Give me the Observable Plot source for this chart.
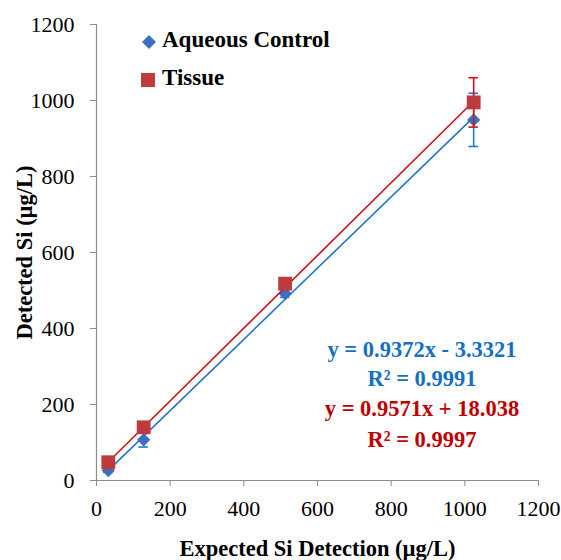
<!DOCTYPE html>
<html>
<head>
<meta charset="utf-8">
<script src="https://cdn.jsdelivr.net/npm/d3@7"></script>
<script src="https://cdn.jsdelivr.net/npm/@observablehq/plot@0.6"></script>
<style>
  html, body { margin: 0; padding: 0; background: #fff; }
  #wrap { position: relative; width: 561px; height: 560px; font-family: "Liberation Serif", serif; overflow: hidden; }
  #wrap svg [aria-label="x-axis tick"], #wrap svg [aria-label="y-axis tick"] { stroke: #8c8c8c; }
  #wrap svg [aria-label="x-axis label"], #wrap svg [aria-label="y-axis label"] { font-weight: bold; font-size: 22.5px; }
  .lg { position: absolute; left: 162px; font-size: 23px; line-height: 23px; font-weight: bold; color: #000; white-space: nowrap; }
  .mk { position: absolute; }
  .eq { position: absolute; font-size: 22.5px; line-height: 22.5px; font-weight: bold; text-align: center; width: 260px; left: 292px; white-space: nowrap; }
</style>
</head>
<body>
<div id="wrap"></div>
<script>
// Data
const expected = [32, 128, 512, 1024];
const aqueous = [26, 107, 492, 949];
const aqueousErr = [4, 19, 10, 70];
const tissue = [48, 140, 518, 995];
const tissueErr = [4, 5, 6, 65];
// trend line end points (x from 32 to 1024)
const trendX = [32, 1024];
const aqueousTrend = [26.7, 956.4];
const tissueTrend = [48.7, 998.1];
const xTicks = [0, 200, 400, 600, 800, 1000, 1200];
const yTicks = [0, 200, 400, 600, 800, 1000, 1200];
const seriesNames = ["Aqueous Control", "Tissue"];
const eqAqueous = ["y = 0.9372x - 3.3321", "R² = 0.9991"];
const eqTissue = ["y = 0.9571x + 18.038", "R² = 0.9997"];

const blue = "#3d6fc0", blueLine = "#1f78d1", blueText = "#1570c4";
const red = "#bf3a3a", redLine = "#d0101c", redText = "#c00000";

const aq = expected.map((x, i) => ({x, y: aqueous[i], e: aqueousErr[i]}));
const ti = expected.map((x, i) => ({x, y: tissue[i], e: tissueErr[i]}));
const aqT = trendX.map((x, i) => ({x, y: aqueousTrend[i]}));
const tiT = trendX.map((x, i) => ({x, y: tissueTrend[i]}));
const cap = 13;

const chart = Plot.plot({
  width: 561,
  height: 560,
  marginLeft: 96,
  marginRight: 23,
  marginTop: 24,
  marginBottom: 80,
  style: {fontFamily: "Liberation Serif, serif", fontSize: "22px", color: "#000", background: "#fff", overflow: "visible"},
  x: {domain: [0, 1200]},
  y: {domain: [0, 1200]},
  marks: [
    Plot.axisX({ticks: xTicks, tickFormat: d3.format("d"), tickSize: 6, tickPadding: 14, label: "Expected Si Detection (µg/L)", labelAnchor: "center", labelOffset: 75, labelArrow: "none"}),
    Plot.axisY({ticks: yTicks, tickFormat: d3.format("d"), tickSize: 6, tickPadding: 16, label: "Detected Si (µg/L)", labelAnchor: "center", labelOffset: 80, labelArrow: "none"}),
    Plot.ruleX([0], {stroke: "#8c8c8c", strokeWidth: 1.2}),
    Plot.ruleY([0], {stroke: "#8c8c8c", strokeWidth: 1.2}),
    // aqueous
    Plot.line(aqT, {x: "x", y: "y", stroke: blueLine, strokeWidth: 1.6}),
    Plot.ruleX(aq, {x: "x", y1: d => d.y - d.e, y2: d => d.y + d.e, stroke: blueLine, strokeWidth: 1.6}),
    Plot.ruleY(aq, {y: d => d.y - d.e, x1: d => d.x - cap, x2: d => d.x + cap, stroke: blueLine, strokeWidth: 1.6}),
    Plot.ruleY(aq, {y: d => d.y + d.e, x1: d => d.x - cap, x2: d => d.x + cap, stroke: blueLine, strokeWidth: 1.6}),
    Plot.dot(aq, {x: "x", y: "y", symbol: "diamond2", r: 6, fill: blue, stroke: "none"}),
    // tissue
    Plot.line(tiT, {x: "x", y: "y", stroke: redLine, strokeWidth: 1.6}),
    Plot.ruleX(ti, {x: "x", y1: d => d.y - d.e, y2: d => d.y + d.e, stroke: redLine, strokeWidth: 1.6}),
    Plot.ruleY(ti, {y: d => d.y - d.e, x1: d => d.x - cap, x2: d => d.x + cap, stroke: redLine, strokeWidth: 1.6}),
    Plot.ruleY(ti, {y: d => d.y + d.e, x1: d => d.x - cap, x2: d => d.x + cap, stroke: redLine, strokeWidth: 1.6}),
    Plot.dot(ti, {x: "x", y: "y", symbol: "square", r: 7.8, fill: red, stroke: "none"})
  ]
});
const wrap = document.getElementById("wrap");
wrap.appendChild(chart);

function addDiv(cls, top, html, extra) {
  const d = document.createElement("div");
  d.className = cls;
  d.style.top = top + "px";
  if (extra) Object.assign(d.style, extra);
  d.innerHTML = html;
  wrap.appendChild(d);
}
// legend (baselines ~47 and ~85)
addDiv("mk", 35, `<svg width="14" height="14"><path d="M7 0 L14 7 L7 14 L0 7 Z" fill="${blue}"/></svg>`, {left: "142px"});
addDiv("lg", 28, seriesNames[0]);
addDiv("mk", 73, `<svg width="14" height="14"><rect x="0" y="0" width="14" height="14" fill="${red}"/></svg>`, {left: "141px"});
addDiv("lg", 66, seriesNames[1]);

// equations (baselines ~358, 387, 417, 448)
addDiv("eq", 339, eqAqueous[0], {color: blueText});
addDiv("eq", 368, eqAqueous[1], {color: blueText});
addDiv("eq", 398, eqTissue[0], {color: redText});
addDiv("eq", 429, eqTissue[1], {color: redText});
</script>
</body>
</html>
